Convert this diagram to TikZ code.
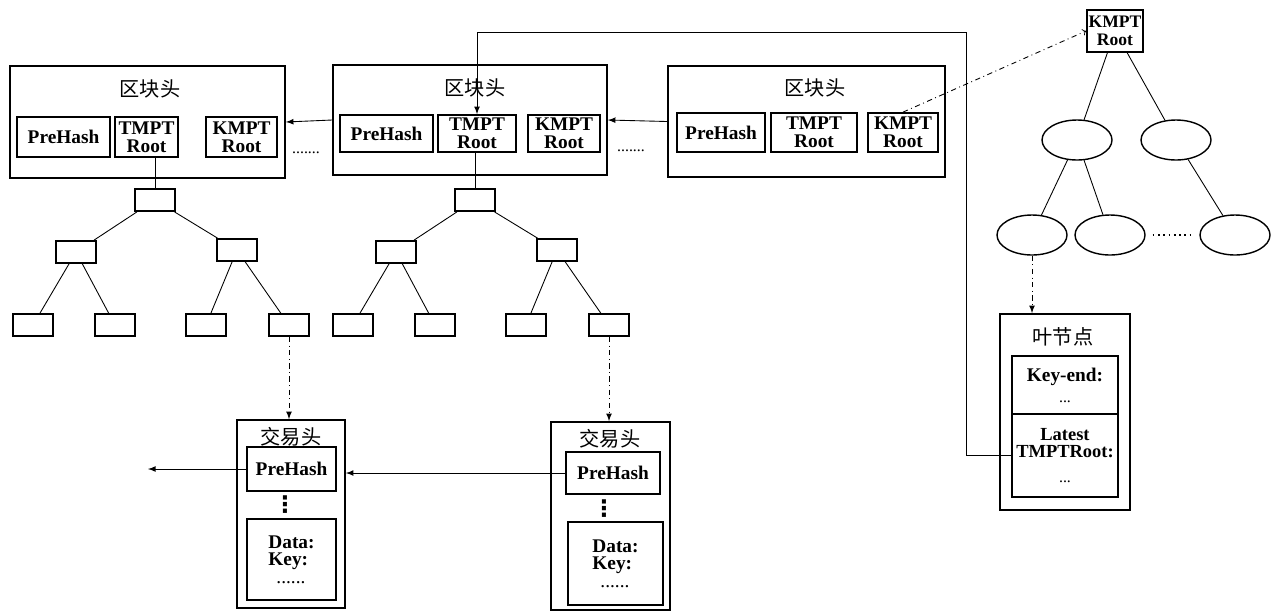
\documentclass[tikz,border=0pt]{standalone}
\usepackage{fontspec}
\setmainfont{Liberation Serif}
\newfontfamily\cjk{Noto Sans CJK SC}
\newfontfamily\symfont{DejaVu Sans}
\usetikzlibrary{arrows,shapes.geometric}

\begin{document}
\begin{tikzpicture}[x=0.02cm,y=-0.02cm,>=latex,line width=0.5pt,
  sz/.style 2 args={minimum width=#1*0.02cm,minimum height=#2*0.02cm},
  outer box/.style={draw,line width=1pt,inner sep=0pt},
  field/.style={draw,line width=1pt,inner sep=1pt,align=center,
    font=\bfseries\fontsize{11}{10}\selectfont},
  title/.style={font=\cjk\fontsize{11.5}{12}\selectfont},
  tree node/.style={draw,line width=1pt,minimum width=0.8cm,minimum height=0.44cm},
  kmpt node/.style={draw,ellipse,line width=0.8pt,minimum width=1.4cm,minimum height=0.8cm},
  dots v/.style={inner sep=0pt,font=\symfont\bfseries\fontsize{13}{13}\selectfont},
  link/.style={dash dot,->}]

  \useasboundingbox (0,0) rectangle (1277,613);

  % block headers
  \node[outer box,sz={275}{112}] (b1) at (147.5,122) {};
  \node[title] (b1h) at (150,89) {区块头};
  \node[field,sz={93}{40}] (b1p) at (63.5,137) {PreHash};
  \node[field,sz={63}{40}] (b1t) at (146.5,137) {TMPT\\Root};
  \node[field,sz={71}{40}] (b1k) at (241.5,137) {KMPT\\Root};

  \node[outer box,sz={274}{110}] (b2) at (470,120) {};
  \node[title] (b2h) at (475,88) {区块头};
  \node[field,sz={93}{37}] (b2p) at (386.5,133.5) {PreHash};
  \node[field,sz={78}{37}] (b2t) at (477,133.5) {TMPT\\Root};
  \node[field,sz={72}{37}] (b2k) at (564,133.5) {KMPT\\Root};

  \node[outer box,sz={277}{111}] (b3) at (806.5,121.5) {};
  \node[title] (b3h) at (815,88) {区块头};
  \node[field,sz={88}{39}] (b3p) at (721,132.5) {PreHash};
  \node[field,sz={86}{39}] (b3t) at (814,132.5) {TMPT\\Root};
  \node[field,sz={70}{39}] (b3k) at (903,132.5) {KMPT\\Root};

  \node[font=\small] (d1) at (306,153) {.......};
  \node[font=\small] (d2) at (631,151) {.......};

  \draw[->] (b2.west) -- (b1.east);
  \draw[->] (b3.west) -- (b2.west -| b2.east);

  % transaction trees
  \foreach \i/\x in {1/155,2/475}{
    \node[tree node] (r\i) at (\x,200) {};
    \node[tree node] (l\i) at (\x-79,252) {};
    \node[tree node] (m\i) at (\x+82,250) {};
    \node[tree node] (r\i-1) at (\x-122,325) {};
    \node[tree node] (r\i-2) at (\x-40,325) {};
    \node[tree node] (r\i-3) at (\x+51,325) {};
    \node[tree node] (r\i-4) at (\x+134,325) {};
    \path (r\i) edge (l\i)
                edge (m\i)
          (l\i) edge (r\i-1)
                edge (r\i-2)
          (m\i) edge (r\i-3)
                edge (r\i-4);
  }
  \draw (r1) -- (r1 |- b1t.south);
  \draw (r2) -- (r2 |- b2t.south);

  % transaction headers
  \node[outer box,sz={108}{188}] (tx1) at (291,514) {};
  \node[title] (tx1h) at (291,437) {交易头};
  \node[field,sz={89}{44}] (tp1) at (291.5,469) {PreHash};
  \node[dots v] (v1) at (285,505) {⋮};
  \node[field,sz={89}{81},align=left] (td1) at (291.5,559.5) {Data:\\Key:\\\ \,\mdseries......};

  \node[outer box,sz={119}{188}] (tx2) at (610.5,516) {};
  \node[title] (tx2h) at (610,439) {交易头};
  \node[field,sz={94}{42}] (tp2) at (613,473) {PreHash};
  \node[dots v] (v2) at (604,509) {⋮};
  \node[field,sz={95}{83},align=left] (td2) at (615.5,563.5) {Data:\\Key:\\\ \,\mdseries......};

  \coordinate (prev) at (148,469);
  \draw[->] (tp1.west) -- (prev);
  \draw[->] (tp2.west) -- (tp2.west -| tx1.east);
  \draw[link] (r1-4.south) -- (r1-4.south |- tx1.north);
  \draw[link] (r2-4.south) -- (r2-4.south |- tx2.north);

  % account tree
  \node[field,sz={50}{42},font=\bfseries\fontsize{10}{10}\selectfont] (kr) at (1115,31) {KMPT\\Root};
  \node[kmpt node] (e1) at (1077,140) {};
  \node[kmpt node] (e2) at (1176,140) {};
  \node[kmpt node] (e3) at (1032,235) {};
  \node[kmpt node] (e4) at (1110,235) {};
  \node[kmpt node] (e5) at (1235,235) {};
  \path (kr) edge (e1)
             edge (e2)
        (e1) edge (e3)
             edge (e4)
        (e2) edge (e5);
  \draw[dotted,line width=1pt,shorten <=4pt,shorten >=4pt] (e4) -- (e5);
  \draw[dash dot,-to] (b3k.north) -- (kr.west);

  % leaf node
  \node[outer box,sz={130}{196}] (lf) at (1065,412) {};
  \node[title] (lfh) at (1063,337) {叶节点};
  \node[field,sz={106}{58}] (lk) at (1065,385) {Key-end:\\[2pt]\mdseries\small...};
  \node[field,sz={106}{83},font=\bfseries\fontsize{10.5}{10}\selectfont] (lt) at (1065,455.5) {Latest\\TMPTRoot:\\[4pt]\mdseries\small...};
  \draw[link] (e3.south) -- (e3.south |- lf.north);

  \coordinate (turn) at (966,32);
  \draw[->] (lt.west) -| (turn) -| (b2t.north);
\end{tikzpicture}
\end{document}
